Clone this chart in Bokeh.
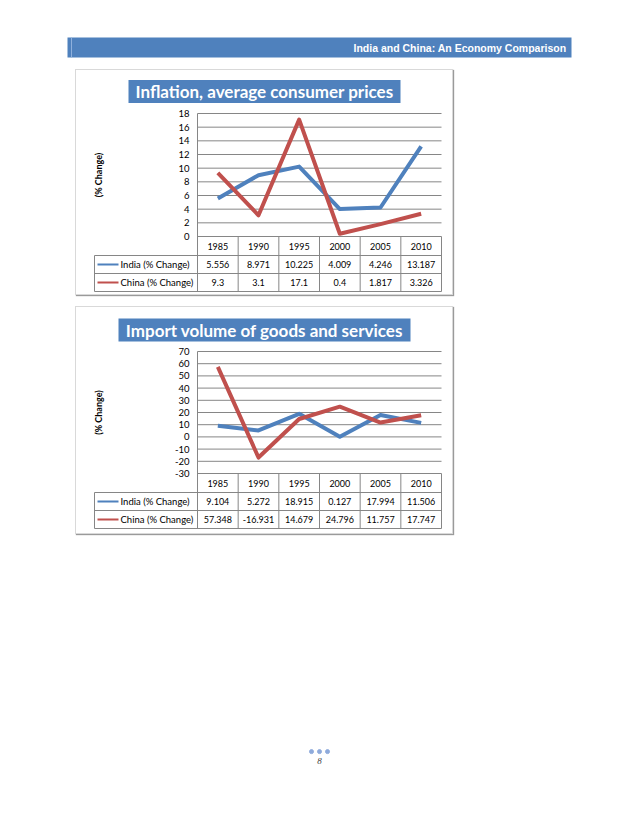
import math
from bokeh.plotting import figure
from bokeh.layouts import column, row
from bokeh.models import Range1d, Spacer, Span
from bokeh.core.properties import value
from bokeh.embed import file_html
from bokeh.resources import INLINE

# ---------------- data ----------------
years = ["1985", "1990", "1995", "2000", "2005", "2010"]
series_names = ["India (% Change)", "China (% Change)"]

infl_india = [5.556, 8.971, 10.225, 4.009, 4.246, 13.187]
infl_china = [9.3, 3.1, 17.1, 0.4, 1.817, 3.326]
infl_ticks = [0, 2, 4, 6, 8, 10, 12, 14, 16, 18]

imp_india = [9.104, 5.272, 18.915, 0.127, 17.994, 11.506]
imp_china = [57.348, -16.931, 14.679, 24.796, 11.757, 17.747]
imp_ticks = [-30, -20, -10, 0, 10, 20, 30, 40, 50, 60, 70]

title1 = "Inflation, average consumer prices"
title2 = "Import volume of goods and services"
y_label = "(% Change)"
header_text = "India and China: An Economy Comparison"
page_number = "8"

# ---------------- style / geometry (page pixels) ----------------
BLUE = "#4f81bd"
RED = "#c0504d"
GRID = "#868686"
TITLE_BG = "#4f81bd"
FONT = "Lato"

BOX_L, BOX_R = 76, 452
PLOT_L, PLOT_R = 197, 441
NCOL = len(years)
COL_PX = (PLOT_R - PLOT_L) / NCOL
ROW_OFFS = [0, 19, 37, 55]          # table rule offsets below the plot bottom
LABEL_COL_L = 94


def make_chart(title, india, china, ticks, box_t, box_b, plot_t, plot_b,
               title_cy, title_w, title_h, title_size):
    ymin, ymax = ticks[0], ticks[-1]
    ppu = (plot_b - plot_t) / (ymax - ymin)

    def X(px):
        return (px - PLOT_L) / COL_PX

    def Y(px):
        return ymin + (plot_b - px) / ppu

    p = figure(width=BOX_R - BOX_L, height=box_b - box_t,
               x_range=Range1d(X(BOX_L), X(BOX_R)), y_range=Range1d(Y(box_b), Y(box_t)),
               x_axis_location=None, y_axis_location=None,
               toolbar_location=None, output_backend="svg",
               min_border_left=0, min_border_right=0, min_border_top=0, min_border_bottom=0,
               outline_line_color=None, background_fill_color="white",
               border_fill_color="white")
    p.grid.visible = False

    n = NCOL
    # horizontal grid lines at the tick values
    p.segment(x0=[0] * len(ticks), y0=ticks, x1=[n] * len(ticks), y1=ticks,
              line_color=GRID, line_width=1)

    # table rules
    rows_y = [Y(plot_b + o) for o in ROW_OFFS]
    lab_l = X(LABEL_COL_L)
    p.segment(x0=[lab_l] * 3, y0=rows_y[1:], x1=[n] * 3, y1=rows_y[1:],
              line_color=GRID, line_width=1)
    # vertical axis line + column rules
    p.segment(x0=[0], y0=[rows_y[3]], x1=[0], y1=[ymax], line_color=GRID, line_width=1)
    p.segment(x0=list(range(1, n + 1)) + [lab_l], y0=[rows_y[3]] * (n + 1),
              x1=list(range(1, n + 1)) + [lab_l], y1=[rows_y[0]] * n + [rows_y[1]],
              line_color=GRID, line_width=1)

    # y tick labels and axis title
    p.text(x=[X(189)] * len(ticks), y=ticks, text=[str(t) for t in ticks],
           text_align="right", text_baseline="middle", text_font=value(FONT),
           text_font_size="9.5px", text_color="black")
    p.text(x=[X(98)], y=[(ymin + ymax) / 2], text=[y_label], angle=math.pi / 2,
           text_align="center", text_baseline="middle", text_font=value(FONT),
           text_font_style="bold", text_font_size="9px", text_color="black")

    # series
    xs = [i + 0.5 for i in range(n)]
    p.line(x=xs, y=india, line_color=BLUE, line_width=4, line_join="round")
    p.line(x=xs, y=china, line_color=RED, line_width=4, line_join="round")

    # table contents
    mid = [(rows_y[i] + rows_y[i + 1]) / 2 for i in range(3)]
    common = dict(text_align="center", text_baseline="middle",
                  text_font=value(FONT), text_font_size="9px", text_color="black")
    p.text(x=xs, y=[mid[0]] * n, text=years, **common)
    p.text(x=xs, y=[mid[1]] * n, text=[f"{v}" for v in india], **common)
    p.text(x=xs, y=[mid[2]] * n, text=[f"{v}" for v in china], **common)
    p.segment(x0=[X(97)] * 2, y0=mid[1:], x1=[X(118)] * 2, y1=mid[1:],
              line_color=[BLUE, RED], line_width=2)
    p.text(x=[X(120)] * 2, y=mid[1:], text=series_names, text_align="left",
           text_baseline="middle", text_font=value(FONT), text_font_size="9.5px",
           text_color="black")

    # title box
    cx = X((BOX_L + BOX_R) / 2)
    p.rect(x=[cx], y=[Y(title_cy)], width=title_w / COL_PX, height=title_h / ppu,
           fill_color=TITLE_BG, line_color=None)
    p.text(x=[cx], y=[Y(title_cy)], text=[title], text_align="center",
           text_baseline="middle", text_font=value(FONT), text_font_style="bold",
           text_font_size=title_size, text_color="white")
    return p


BOX_STYLE = {"border": "1px solid #d9d9d9", "box-shadow": "1px 1px 1px #9a9a9a"}

chart1 = make_chart(title1, infl_india, infl_china, infl_ticks,
                    70, 294, 113, 236, 91, 272, 23, "17px")
chart2 = make_chart(title2, imp_india, imp_china, imp_ticks,
                    307, 533, 351, 473, 329.5, 292, 23, "17px")

# header bar
h = figure(width=600, height=69, x_range=Range1d(0, 1), y_range=Range1d(0, 1),
           x_axis_location=None, y_axis_location=None, toolbar_location=None,
           output_backend="svg", min_border_left=67, min_border_right=29,
           min_border_top=37, min_border_bottom=12, outline_line_color=None,
           background_fill_color="#4f81bd", border_fill_color="white")
h.grid.visible = False
h.add_layout(Span(location=4 / 504, dimension="height", line_color="#8fb0dc", line_width=1))
h.text(x=[0.99], y=[0.5], text=[header_text], text_align="right", text_baseline="middle",
       text_font=value("Liberation Sans"), text_font_style="bold", text_font_size="10.5px",
       text_color="white")

# footer
f = figure(width=600, height=26, x_range=Range1d(-1.5, 1.5), y_range=Range1d(0, 1),
           x_axis_location=None, y_axis_location=None, toolbar_location=None,
           output_backend="svg", min_border_left=307, min_border_right=269,
           min_border_top=0, min_border_bottom=0, outline_line_color=None,
           background_fill_color="white", border_fill_color="white")
f.grid.visible = False
f.scatter(x=[-1, 0, 1], y=[0.65] * 3, size=4, color="#8eaadb")
f.text(x=[0], y=[0.27], text=[page_number], text_align="center", text_baseline="middle",
       text_font=value("Liberation Serif"), text_font_style="italic", text_font_size="9px",
       text_color="#404040")

layout = column(
    row(h),
    row(Spacer(width=75), column(chart1, styles=BOX_STYLE)),
    Spacer(height=11),
    row(Spacer(width=75), column(chart2, styles=BOX_STYLE)),
    Spacer(height=208),
    row(f),
)

open("out.html", "w").write(file_html(layout, INLINE))
